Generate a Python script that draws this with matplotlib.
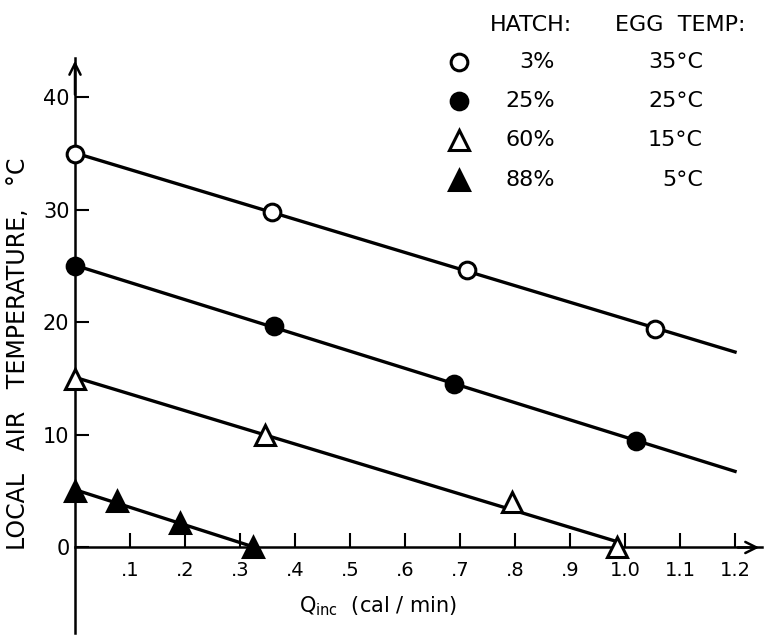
import numpy as np
import matplotlib
matplotlib.use("Agg")
import matplotlib.pyplot as plt

q_35 = [0.0, 0.358, 0.713, 1.055]
t_35 = [35.0, 29.8, 24.7, 19.4]
q_25 = [0.0, 0.362, 0.689, 1.02]
t_25 = [25.0, 19.7, 14.5, 9.5]
q_15 = [0.0, 0.345, 0.795, 0.985]
t_15 = [15.0, 10.0, 4.0, 0.0]
q_5 = [0.0, 0.076, 0.19, 0.324]
t_5 = [5.0, 4.1, 2.2, 0.0]

hatch = ["3%", "25%", "60%", "88%"]
egg_temp = ["35°C", "25°C", "15°C", "5°C"]
line_end = [1.2, 1.2, 0.985, 0.324]   # where each fitted line stops

x_ticks = [.1, .2, .3, .4, .5, .6, .7, .8, .9, 1.0, 1.1, 1.2]
x_labels = [".1", ".2", ".3", ".4", ".5", ".6", ".7", ".8", ".9", "1.0", "1.1", "1.2"]
y_ticks = [0, 10, 20, 30, 40]

plt.rcParams["font.family"] = ["DejaVu Sans"]
fig = plt.figure(figsize=(7.64, 6.43), dpi=100)
ax = fig.add_axes([75 / 764, 1 - 633 / 643, 687 / 764, 575 / 643])
ax.set_xlim(0, 1.249)
ax.set_ylim(-7.6, 43.5)

series = [(q_35, t_35, "o", "white"), (q_25, t_25, "o", "black"),
          (q_15, t_15, "^", "white"), (q_5, t_5, "^", "black")]

for (q, t, m, fc), x_end in zip(series, line_end):
    slope, icpt = np.polyfit(q, t, 1)
    xs = np.array([0.0, x_end])
    ax.plot(xs, icpt + slope * xs, color="black", lw=2.4, zorder=2, clip_on=False)
    ms = 12 if m == "o" else 14
    ax.plot(q, t, linestyle="none", marker=m, ms=ms, mfc=fc, mec="black",
            mew=2.2, zorder=3, clip_on=False)

# axes drawn as two lines crossing at the origin
ax.spines["top"].set_visible(False)
ax.spines["right"].set_visible(False)
ax.spines["left"].set_position(("data", 0))
ax.spines["bottom"].set_position(("data", 0))
ax.spines["left"].set_linewidth(1.8)
ax.spines["bottom"].set_linewidth(1.8)
ax.annotate("", xy=(1.249, 0), xytext=(1.2, 0),
            arrowprops=dict(arrowstyle="->", lw=1.8, mutation_scale=20), annotation_clip=False)
ax.annotate("", xy=(0, 43.5), xytext=(0, 40),
            arrowprops=dict(arrowstyle="->", lw=1.8, mutation_scale=20), annotation_clip=False)

ax.set_xticks(x_ticks)
ax.set_xticklabels(x_labels)
ax.set_yticks(y_ticks)
ax.tick_params(axis="x", direction="in", length=10, width=1.5, labelsize=14, pad=10)
ax.tick_params(axis="y", direction="in", length=10, width=1.5, labelsize=15, pad=4)

fig.text(18 / 764, 1 - 354 / 643, "LOCAL   AIR   TEMPERATURE,   °C", rotation=90,
         ha="center", va="center", fontsize=17)
fig.text(378 / 764, 1 - 606 / 643, r"Q$_{\mathregular{inc}}$  (cal / min)",
         ha="center", va="center", fontsize=15)

# hand-drawn style key in the upper right
fig.text(531 / 764, 1 - 25 / 643, "HATCH:", ha="center", va="center", fontsize=16)
fig.text(680 / 764, 1 - 25 / 643, "EGG  TEMP:", ha="center", va="center", fontsize=16)
rows = [62, 101, 140, 180]
for (q, t, m, fc), h, e, ry in zip(series, hatch, egg_temp, rows):
    fy = 1 - ry / 643
    fig.lines.append(plt.Line2D([459 / 764], [fy], marker=m, ms=12 if m == "o" else 14,
                                mfc=fc, mec="black", mew=2.2, transform=fig.transFigure))
    fig.text(555 / 764, fy, h, ha="right", va="center", fontsize=16)
    fig.text(703 / 764, fy, e, ha="right", va="center", fontsize=16)

fig.savefig("out.png", dpi=100)
